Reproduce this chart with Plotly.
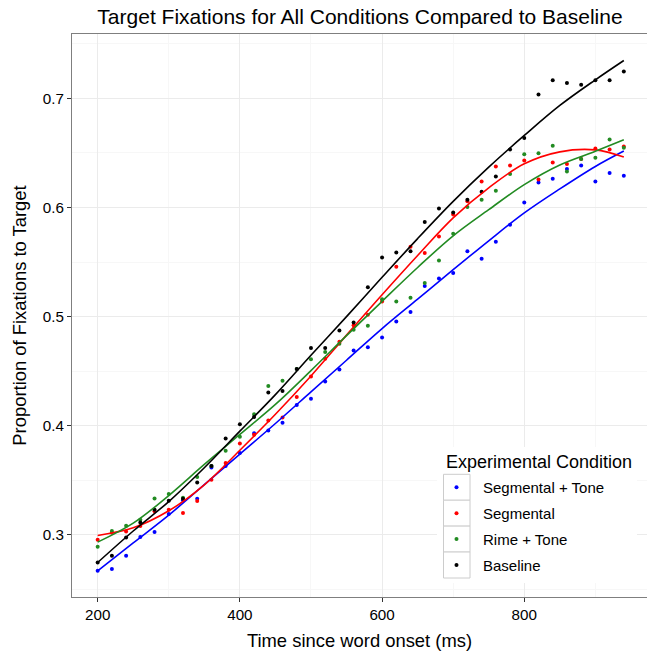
import plotly.graph_objects as go

# ---------------- data ----------------
time_ms = [200, 220, 240, 260, 280, 300, 320, 340, 360, 380, 400, 420, 440, 460, 480,
           500, 520, 540, 560, 580, 600, 620, 640, 660, 680, 700, 720, 740, 760, 780,
           800, 820, 840, 860, 880, 900, 920, 940]

seg_tone = [0.267, 0.2686, 0.2808, 0.298, 0.3025, 0.319, 0.3316, 0.333, 0.3617, 0.363,
            0.375, 0.393, 0.3956, 0.4027, 0.4189, 0.4247, 0.4405, 0.4515, 0.4689, 0.472,
            0.4809, 0.4955, 0.5041, 0.528, 0.5349, 0.54, 0.56, 0.553, 0.5685, 0.5841,
            0.6046, 0.623, 0.6263, 0.6352, 0.6385, 0.6238, 0.6315, 0.629]

segmental = [0.2954, 0.302, 0.303, 0.308, 0.3217, 0.3229, 0.32, 0.3309, 0.3505, 0.3657,
             0.3836, 0.3917, 0.4048, 0.4075, 0.4262, 0.4451, 0.4613, 0.477, 0.492, 0.5016,
             0.5138, 0.5456, 0.564, 0.5582, 0.5734, 0.5936, 0.6058, 0.6238, 0.6376, 0.6385,
             0.6431, 0.6257, 0.6413, 0.6398, 0.6444, 0.6541, 0.6532, 0.6559]

rime_tone = [0.289, 0.3034, 0.3083, 0.3137, 0.3333, 0.3375, 0.334, 0.3529, 0.363, 0.377,
             0.3898, 0.4106, 0.4363, 0.4412, 0.4519, 0.461, 0.4675, 0.475, 0.4879, 0.4916,
             0.516, 0.5139, 0.5172, 0.5307, 0.5514, 0.576, 0.6004, 0.607, 0.6153, 0.6306,
             0.6489, 0.6498, 0.6565, 0.633, 0.6444, 0.6455, 0.6623, 0.6547]

baseline = [0.2746, 0.2808, 0.2976, 0.3113, 0.3229, 0.3312, 0.333, 0.348, 0.363, 0.3883,
            0.4014, 0.408, 0.4304, 0.4317, 0.452, 0.4711, 0.4711, 0.4873, 0.4946, 0.527,
            0.5542, 0.5588, 0.56, 0.5866, 0.5991, 0.5954, 0.607, 0.6144, 0.6284, 0.6532,
            0.6636, 0.7036, 0.7167, 0.714, 0.7125, 0.7167, 0.7167, 0.7247]

# smoothed trend lines
fit_ms = [200, 250, 300, 350, 400, 450, 500, 550, 600, 650, 700, 750, 800, 850, 900, 940]
fit_seg_tone = [0.267, 0.2925, 0.318, 0.346, 0.374, 0.402, 0.431, 0.460, 0.489, 0.516,
                0.543, 0.5695, 0.595, 0.617, 0.6376, 0.6517]
fit_segmental = [0.2994, 0.3064, 0.322, 0.3458, 0.3775, 0.4105, 0.4456, 0.483, 0.520, 0.556,
                 0.5905, 0.618, 0.640, 0.651, 0.6528, 0.6462]
fit_rime_tone = [0.2933, 0.3107, 0.336, 0.3645, 0.392, 0.4195, 0.4505, 0.4825, 0.514, 0.545,
                 0.574, 0.598, 0.621, 0.639, 0.6515, 0.662]
fit_baseline = [0.2746, 0.3035, 0.3305, 0.3615, 0.395, 0.4285, 0.4645, 0.500, 0.536, 0.5715,
                0.6056, 0.637, 0.666, 0.6935, 0.717, 0.7347]

names = ["Segmental + Tone", "Segmental", "Rime + Tone", "Baseline"]
colors = ["#0000FF", "#FF0000", "#228B22", "#000000"]
points = [seg_tone, segmental, rime_tone, baseline]
fits = [fit_seg_tone, fit_segmental, fit_rime_tone, fit_baseline]

x_ticks = [200, 400, 600, 800]
x_minor = [300, 500, 700, 900]
y_ticks = [0.3, 0.4, 0.5, 0.6, 0.7]
y_tick_text = ["0.3", "0.4", "0.5", "0.6", "0.7"]
y_minor = [0.25, 0.35, 0.45, 0.55, 0.65, 0.75]

FONT = "Liberation Sans, Arial, Helvetica, sans-serif"

# ---------------- figure ----------------
W, H = 647, 655
L, R, T, B = 72, 0, 34, 58
fig = go.Figure()

for name, col, pts in zip(names, colors, points):
    fig.add_trace(go.Scatter(x=time_ms, y=pts, mode="markers", name=name,
                             legendgroup=name,
                             marker=dict(color=col, size=4, line=dict(width=0))))
for name, col, fy in zip(names, colors, fits):
    fig.add_trace(go.Scatter(x=fit_ms, y=fy, mode="lines", name=name + " fit",
                             showlegend=False,
                             line=dict(color=col, width=1.6, shape="spline", smoothing=1)))

pw = W - L - R
ph = H - T - B


def px2paper_x(px):
    return (px - L) / pw


def px2paper_y(py):
    return (H - B - py) / ph


shapes = []
# legend background (covers the grid)
shapes.append(dict(type="rect", xref="paper", yref="paper", layer="above",
                   x0=px2paper_x(437), x1=px2paper_x(637),
                   y0=px2paper_y(583), y1=px2paper_y(447),
                   fillcolor="white", line=dict(width=0)))
# legend key boxes
key_centers = [487.3, 513.2, 539.1, 565.0]
for cy in key_centers:
    shapes.append(dict(type="rect", xref="paper", yref="paper", layer="above",
                       x0=px2paper_x(443.5), x1=px2paper_x(470),
                       y0=px2paper_y(cy + 13), y1=px2paper_y(cy - 13),
                       fillcolor="white", line=dict(color="#cccccc", width=1)))

fig.update_layout(
    width=W, height=H,
    margin=dict(l=L, r=R, t=T, b=B, pad=0),
    paper_bgcolor="white", plot_bgcolor="white",
    font=dict(family=FONT, color="black", size=15),
    title=dict(text="Target Fixations for All Conditions Compared to Baseline",
               x=360 / W, xref="container", xanchor="center",
               y=1 - 17 / H, yref="container", yanchor="middle",
               font=dict(family=FONT, size=21, color="black")),
    showlegend=True,
    legend=dict(x=px2paper_x(430.0), xanchor="left",
                y=px2paper_y(471.0), yanchor="top",
                bgcolor="rgba(0,0,0,0)", borderwidth=0,
                font=dict(family=FONT, size=15, color="black"),
                itemwidth=43, tracegroupgap=3.4,
                itemsizing="trace"),
    shapes=shapes,
    annotations=[dict(text="Experimental Condition", xref="paper", yref="paper",
                      x=px2paper_x(444), y=px2paper_y(462), xanchor="left",
                      yanchor="middle", showarrow=False,
                      font=dict(family=FONT, size=18, color="black"))],
    xaxis=dict(range=[163.9, 972.6], tickvals=x_ticks, ticktext=[str(v) for v in x_ticks],
               showgrid=True, gridcolor="#ebebeb", gridwidth=1,
               minor=dict(tickvals=x_minor, showgrid=True, gridcolor="#f7f7f7", gridwidth=1),
               showline=True, mirror=True, linecolor="#7f7f7f", linewidth=1,
               ticks="outside", ticklen=4, tickcolor="#333333", tickwidth=1,
               zeroline=False, automargin=False,
               tickfont=dict(family=FONT, size=15.2, color="black"),
               title=dict(text="Time since word onset (ms)", standoff=11,
                          font=dict(family=FONT, size=18.4, color="black"))),
    yaxis=dict(range=[0.243, 0.759], tickvals=y_ticks, ticktext=y_tick_text,
               showgrid=True, gridcolor="#ebebeb", gridwidth=1,
               minor=dict(tickvals=y_minor, showgrid=True, gridcolor="#f7f7f7", gridwidth=1),
               showline=True, mirror=True, linecolor="#7f7f7f", linewidth=1,
               ticks="outside", ticklen=4, tickcolor="#333333", tickwidth=1,
               zeroline=False, automargin=False,
               tickfont=dict(family=FONT, size=15.2, color="black"),
               title=dict(text="Proportion of Fixations to Target", standoff=11,
                          font=dict(family=FONT, size=18.4, color="black"))),
)

fig.write_html("out.html")
